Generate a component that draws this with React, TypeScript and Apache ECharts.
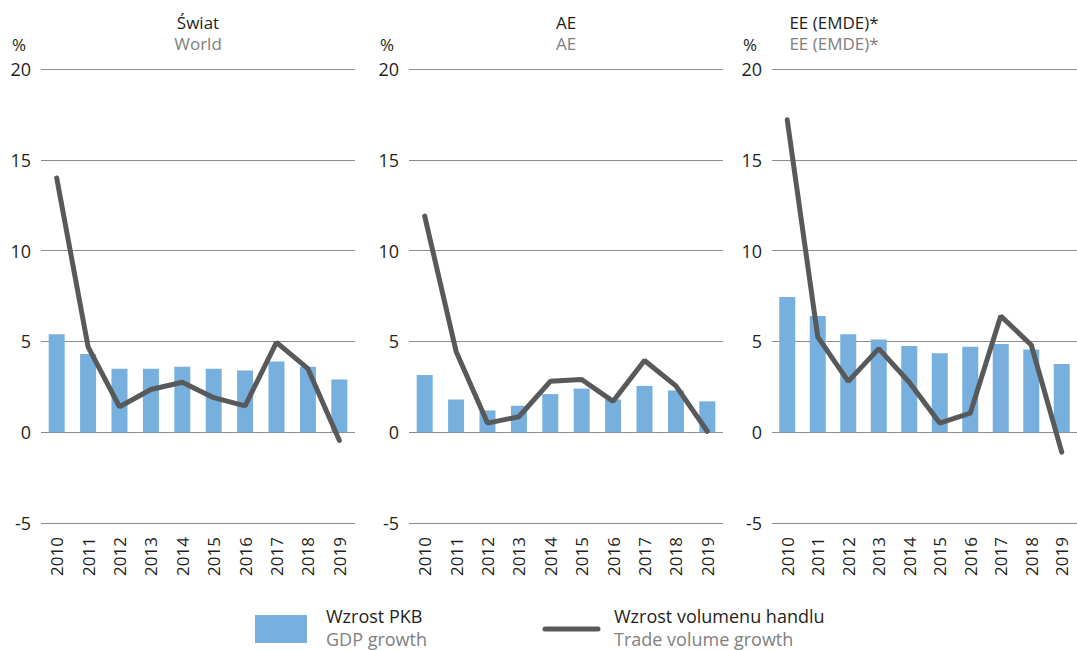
import React, { useEffect, useRef } from "react";
import * as echarts from "echarts";

const years = ["2010", "2011", "2012", "2013", "2014", "2015", "2016", "2017", "2018", "2019"];
const yTicks = { min: -5, max: 20, interval: 5 };

const panelTitles = ["Świat", "AE", "EE (EMDE)*"];
const panelSubtitles = ["World", "AE", "EE (EMDE)*"];

const worldGdp = [5.4, 4.3, 3.5, 3.5, 3.6, 3.5, 3.4, 3.9, 3.6, 2.9];
const worldTrade = [14.0, 4.7, 1.4, 2.35, 2.75, 1.9, 1.45, 4.95, 3.5, -0.45];

const aeGdp = [3.15, 1.8, 1.2, 1.45, 2.1, 2.4, 1.8, 2.55, 2.3, 1.7];
const aeTrade = [11.9, 4.45, 0.5, 0.85, 2.8, 2.9, 1.7, 3.95, 2.55, 0.05];

const emGdp = [7.45, 6.4, 5.4, 5.1, 4.75, 4.35, 4.7, 4.85, 4.55, 3.75];
const emTrade = [17.2, 5.25, 2.8, 4.6, 2.75, 0.5, 1.05, 6.4, 4.8, -1.1];

const legendLabels = ["Wzrost PKB", "Wzrost volumenu handlu"];
const legendSubLabels = ["GDP growth", "Trade volume growth"];

const gdpSets = [worldGdp, aeGdp, emGdp];
const tradeSets = [worldTrade, aeTrade, emTrade];

const FONT = "'Open Sans', sans-serif";
const BAR_COLOR = "#77b0de";
const LINE_COLOR = "#58595b";
const GRID_LEFTS = [41, 409, 772];
const TITLE_X = [198, 566, 834];
const GRID_W = 314;

export default function App() {
  const ref = useRef<HTMLDivElement>(null);
  useEffect(() => {
    if (!ref.current) return;
    const chart = echarts.init(ref.current, undefined, { renderer: "svg" });
    const grids = GRID_LEFTS.map((l) => ({ left: l, top: 69, width: GRID_W, height: 454 }));
    const xAxis = GRID_LEFTS.map((_, i) => ({
      type: "category",
      gridIndex: i,
      data: years,
      axisLine: { show: false },
      axisTick: { show: false },
      axisLabel: { rotate: 90, margin: 14, fontSize: 17, color: "#231f20", fontFamily: FONT },
    }));
    const yAxis = GRID_LEFTS.map((_, i) => ({
      type: "value",
      gridIndex: i,
      min: yTicks.min,
      max: yTicks.max,
      interval: yTicks.interval,
      axisLine: { show: false },
      axisTick: { show: false },
      axisLabel: { margin: 10, fontSize: 18, color: "#231f20", fontFamily: FONT },
      splitLine: { lineStyle: { color: "#8c8c8c", width: 1 } },
    }));
    const series: any[] = [];
    GRID_LEFTS.forEach((_, i) => {
      series.push({
        type: "bar",
        name: legendLabels[0],
        xAxisIndex: i,
        yAxisIndex: i,
        data: gdpSets[i],
        barWidth: 16,
        itemStyle: { color: BAR_COLOR },
      });
      series.push({
        type: "line",
        name: legendLabels[1],
        xAxisIndex: i,
        yAxisIndex: i,
        data: tradeSets[i],
        symbol: "none",
        z: 5,
        lineStyle: { color: LINE_COLOR, width: 5, cap: "round" },
      });
    });
    const graphic: any[] = [];
    GRID_LEFTS.forEach((l, i) => {
      graphic.push({
        type: "text",
        x: TITLE_X[i],
        y: 22,
        style: { text: panelTitles[i], fill: "#231f20", font: `17px ${FONT}`, textAlign: "center", textVerticalAlign: "middle" },
      });
      graphic.push({
        type: "text",
        x: TITLE_X[i],
        y: 43,
        style: { text: panelSubtitles[i], fill: "#808080", font: `17px ${FONT}`, textAlign: "center", textVerticalAlign: "middle" },
      });
      graphic.push({
        type: "text",
        x: l - 22,
        y: 44,
        style: { text: "%", fill: "#231f20", font: `17px ${FONT}`, textAlign: "center", textVerticalAlign: "middle" },
      });
    });
    graphic.push({ type: "rect", shape: { x: 255, y: 615, width: 52, height: 28 }, style: { fill: BAR_COLOR } });
    graphic.push({
      type: "line",
      shape: { x1: 545, y1: 629, x2: 598, y2: 629 },
      style: { stroke: LINE_COLOR, lineWidth: 5, lineCap: "round" },
    });
    [326, 614].forEach((x, i) => {
      graphic.push({
        type: "text",
        x,
        y: 616,
        style: { text: legendLabels[i], fill: "#231f20", font: `18px ${FONT}`, textVerticalAlign: "middle" },
      });
      graphic.push({
        type: "text",
        x,
        y: 639,
        style: { text: legendSubLabels[i], fill: "#808080", font: `18px ${FONT}`, textVerticalAlign: "middle" },
      });
    });
    chart.setOption({
      animation: false,
      backgroundColor: "#ffffff",
      textStyle: { fontFamily: FONT },
      grid: grids,
      xAxis,
      yAxis,
      series,
      graphic,
    });
    return () => chart.dispose();
  }, []);
  return <div ref={ref} style={{ position: "fixed", left: 0, top: 0, width: 1077, height: 650 }} />;
}
